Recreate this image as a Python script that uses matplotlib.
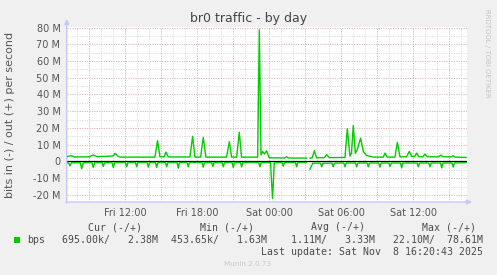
import numpy as np
import matplotlib
matplotlib.use("Agg")
import matplotlib.pyplot as plt
from matplotlib.patches import Rectangle

W, H = 497, 275
nan = np.nan

# hours since Fri 00:00, values in M bits/s
out_t = [7.12, 7.3, 7.53, 7.75, 9.06, 9.2, 9.33, 9.5, 9.65, 10.5, 11.0, 11.14, 11.42, 11.6,
         14.47, 14.69, 14.89, 15.25, 15.39, 15.58, 17.39, 17.61, 17.81, 18.28, 18.5, 18.72,
         20.44, 20.67, 20.86, 21.28, 21.5, 21.69, 23.03, 23.17, 23.31, 23.44, 23.6, 23.78,
         23.99, 25.3, 25.45, 25.6, 27.11, 27.25, 27.39, 27.58, 27.75, 27.94, 28.6, 28.78,
         29.0, 30.31, 30.5, 30.72, 30.85, 31.0, 31.17, 31.33, 31.61, 31.83, 32.1, 32.67,
         33.5, 33.64, 33.83, 34.47, 34.67, 34.89, 35.44, 35.67, 35.86, 36.1, 36.28, 36.47,
         36.8, 36.97, 37.17, 38.1, 38.28, 38.5, 39.2, 39.33, 39.5, 40.4]
out_v = [2.8, 3.2, 3.4, 2.7, 2.8, 3.6, 3.8, 3.4, 2.9, 3.1, 3.3, 4.8, 3.0, 2.6,
         2.6, 12.4, 2.8, 2.8, 5.6, 2.7, 2.7, 15.0, 2.6, 2.6, 14.4, 2.6,
         2.6, 11.8, 2.6, 2.6, 17.4, 2.6, 2.6, 78.6, 4.0, 6.0, 4.5, 6.4,
         2.2, 2.1, 2.8, 2.1, 2.0, nan, 2.0, 2.2, 6.4, 2.2, 2.3, 4.0,
         2.3, 2.4, 19.6, 3.2, 5.0, 21.4, 5.0, 7.0, 14.0, 6.0, 3.6, 2.6,
         2.6, 5.0, 2.6, 2.6, 11.4, 2.8, 2.8, 6.0, 3.0, 2.9, 5.0, 2.8,
         2.8, 4.4, 2.8, 2.8, 3.8, 2.8, 2.8, 3.4, 2.6, 2.4]

in_t = [7.12, 7.28, 7.39, 7.52, 8.25, 8.37, 8.5, 9.22, 9.33, 9.45, 10.07, 10.17, 10.28,
        10.9, 11.0, 11.12, 12.02, 12.12, 12.22, 12.85, 12.95, 13.05, 13.82, 13.92, 14.02,
        14.52, 14.62, 14.72, 15.35, 15.45, 15.55, 16.32, 16.42, 16.52, 17.15, 17.25, 17.35,
        18.4, 18.5, 18.6, 19.2, 19.3, 19.4, 20.07, 20.17, 20.27, 20.9, 21.0, 21.1, 21.6,
        21.7, 21.8, 23.12, 23.22, 23.32, 24.1, 24.27, 24.42, 25.07, 25.17, 25.27, 26.18,
        26.28, 26.38, 27.11, 27.25, 27.39, 27.62, 28.27, 28.37, 28.47, 29.23, 29.33, 29.43,
        30.21, 30.31, 30.41, 31.18, 31.28, 31.38, 32.15, 32.25, 32.35, 33.12, 33.22, 33.32,
        33.96, 34.06, 34.16, 34.93, 35.03, 35.13, 36.32, 36.42, 36.52, 37.29, 37.39, 37.49,
        38.27, 38.37, 38.47, 39.23, 39.33, 39.43, 40.4]
in_v = [-0.9, -0.8, -2.6, -0.8, -0.7, -4.4, -0.8, -0.6, -3.6, -0.7, -0.6, -3.0, -0.6,
        -0.6, -3.6, -0.6, -0.6, -3.2, -0.6, -0.6, -3.2, -0.6, -0.6, -3.4, -0.6,
        -0.6, -3.6, -0.6, -0.6, -3.2, -0.6, -0.6, -4.0, -0.6, -0.6, -3.2, -0.6,
        -0.6, -3.4, -0.6, -0.6, -3.0, -0.6, -0.6, -3.2, -0.6, -0.6, -3.6, -0.6, -0.6,
        -3.2, -0.6, -0.6, -3.2, -0.6, -0.7, -22.1, -0.8, -0.6, -2.8, -0.6, -0.6,
        -3.2, -0.6, -0.6, nan, -4.6, -1.0, -1.0, -3.2, -1.0, -1.0, -3.2, -1.0,
        -0.9, -3.2, -0.9, -0.9, -3.2, -0.9, -0.9, -3.2, -0.9, -0.9, -3.4, -0.9,
        -0.9, -3.0, -0.9, -0.9, -3.8, -0.9, -0.9, -3.2, -0.9, -0.9, -3.2, -0.9,
        -0.9, -3.8, -0.9, -0.9, -3.4, -0.9, -0.7]

tick_hours = [12, 18, 24, 30, 36]
tick_labels = ["Fri 12:00", "Fri 18:00", "Sat 00:00", "Sat 06:00", "Sat 12:00"]
y_ticks = [-20, -10, 0, 10, 20, 30, 40, 50, 60, 70, 80]
y_labels = ["-20 M", "-10 M", "0", "10 M", "20 M", "30 M", "40 M", "50 M", "60 M", "70 M", "80 M"]

legend_heads = ["Cur (-/+)", "Min (-/+)", "Avg (-/+)", "Max (-/+)"]
legend_vals = ["695.00k/   2.38M", "453.65k/   1.63M", "1.11M/   3.33M", "22.10M/  78.61M"]
last_update = "Last update: Sat Nov  8 16:20:43 2025"

GREEN = "#00cc00"
TXT = "#555555"
AXIS = "#c4c8f6"


def fx(x):
    return x / W


def fy(y):
    return 1 - y / H


fig = plt.figure(figsize=(W / 100, H / 100), dpi=100)
fig.patch.set_facecolor("#f0f0f0")
ax = fig.add_axes([fx(66.7), fy(202), 400.6 / W, 175 / H])
ax.set_facecolor("white")
ax.set_xlim(7.12, 40.5)
ax.set_ylim(-24.2, 80.3)
for s in ax.spines.values():
    s.set_visible(False)

# grid: minor every hour / 5M, major every 3 hours / 10M
dots = (0, (1, 1.5))
for h in np.arange(8, 41, 1):
    ax.axvline(h, color="#d6d6d6", lw=0.7, ls=dots, zorder=1)
for v in np.arange(-20, 81, 5):
    ax.axhline(v, color="#d6d6d6", lw=0.7, ls=dots, zorder=1)
for h in np.arange(9, 41, 3):
    ax.axvline(h, color="#eab4b4", lw=0.7, ls=dots, zorder=2)
for v in y_ticks:
    ax.axhline(v, color="#eab4b4", lw=0.7, ls=dots, zorder=2)

ax.plot(out_t, out_v, color=GREEN, lw=1.0, zorder=4)
ax.plot(in_t, in_v, color=GREEN, lw=1.0, zorder=4)
ax.axhline(0, color="black", lw=0.9, zorder=3)

ax.set_xticks(tick_hours, tick_labels)
ax.set_yticks(y_ticks, y_labels)
ax.tick_params(axis="x", length=0, pad=4.5, labelsize=7, labelcolor=TXT)
ax.tick_params(axis="y", length=0, pad=4.5, labelsize=7, labelcolor=TXT)

# axis lines with arrows
ax.annotate("", xy=(66.7, H - 19), xytext=(66.7, H - 203), xycoords="figure pixels",
            textcoords="figure pixels",
            arrowprops=dict(arrowstyle="-|>", color=AXIS, lw=1, mutation_scale=7, shrinkA=0, shrinkB=0))
ax.annotate("", xy=(472, H - 202), xytext=(65.7, H - 202), xycoords="figure pixels",
            textcoords="figure pixels",
            arrowprops=dict(arrowstyle="-|>", color=AXIS, lw=1, mutation_scale=7, shrinkA=0, shrinkB=0))

fig.text(fx(248.7), fy(22), "br0 traffic - by day", ha="center", va="baseline",
         fontsize=9, color="#444444")
fig.text(fx(10), fy(115), "bits in (-) / out (+) per second", rotation=90,
         ha="center", va="center", fontsize=8, color=TXT)
fig.text(fx(487.5), fy(53.5), "RRDTOOL / TOBI OETIKER", rotation=270,
         ha="center", va="center", fontsize=5, color="#c4c4c4")

mono = dict(family="DejaVu Sans Mono", fontsize=7.15, color="#4a4a4a")
head_right = [142, 254, 365, 476]
val_right = [158, 267, 375, 483]
for lab, xr in zip(legend_heads, head_right):
    fig.text(fx(xr), fy(227.3), lab, ha="right", va="center", **mono)
for lab, xr in zip(legend_vals, val_right):
    fig.text(fx(xr), fy(240), lab, ha="right", va="center", **mono)
fig.text(fx(26.7), fy(240), "bps", ha="left", va="center", **mono)
fig.add_artist(Rectangle((fx(14), fy(243)), 6 / W, 6 / H, transform=fig.transFigure,
                         facecolor=GREEN, edgecolor="none"))
fig.text(fx(483), fy(251.7), last_update, ha="right", va="center", **mono)
fig.text(fx(248), fy(264), "Munin 2.0.73", ha="center", va="center",
         fontsize=5.2, color="#c8c8c8")

fig.savefig("out.png", dpi=100, facecolor=fig.get_facecolor())
